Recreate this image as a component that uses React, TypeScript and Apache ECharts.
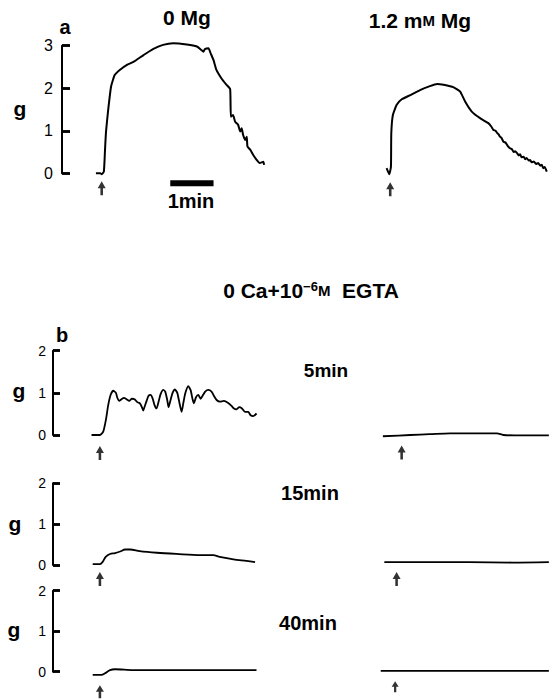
import React, { useEffect, useRef } from 'react';
import * as echarts from 'echarts';

// Time in s relative to the stimulus (arrow), force in g
const traceA0Mg: [number, number][] = [
  [-8, 0], [-2, 0], [0, -0.02], [3, 0.04], [4.6, 0.55], [6, 0.98], [9, 1.49], [13, 2.04], [18, 2.31],
  [25, 2.43], [35, 2.55], [44, 2.62], [58, 2.78], [71, 2.92], [85, 3.02], [99, 3.06], [118, 3.03],
  [132, 2.98], [138, 2.9], [141, 2.86], [143, 2.92], [148, 2.94], [151, 2.82], [155, 2.66], [159, 2.43],
  [166, 2.23], [173, 2.08], [178, 1.98], [179, 1.33], [182, 1.37], [185, 1.21], [189, 1.14], [192, 0.98],
  [194, 1.06], [196, 0.9], [199, 0.78], [201, 0.86], [202, 0.63], [206, 0.55], [210, 0.43], [215, 0.31],
  [219, 0.24], [224, 0.27], [225, 0.2],
];
const traceA12Mg: [number, number][] = [
  [-5, 0.12], [-1.4, -0.02], [1, 0.15], [1.5, 0.94], [3.7, 1.37], [9, 1.61], [16, 1.74], [28, 1.84],
  [42, 1.96], [55, 2.05], [65, 2.1], [74, 2.08], [88, 2.02], [97, 1.92], [104, 1.68], [113, 1.45],
  [125, 1.29], [136, 1.18], [140, 1.1], [143, 1.02], [146, 1.0], [148, 0.95], [150, 0.92], [152, 0.86],
  [154, 0.84], [157, 0.74], [160, 0.72], [163, 0.64], [166, 0.59], [169, 0.56], [171, 0.5], [173, 0.52],
  [176, 0.47], [178, 0.42], [180, 0.45], [182, 0.38], [185, 0.39], [187, 0.33], [189, 0.36], [192, 0.3],
  [194, 0.31], [196, 0.26], [199, 0.28], [202, 0.22], [205, 0.24], [208, 0.18], [210, 0.2], [212, 0.12],
  [214, 0.15], [217, 0.04],
];
const traceB5L: [number, number][] = [
  [-11.6, 0], [0, 0], [4.6, 0.08], [8.3, 0.36], [11.5, 0.71], [14.8, 0.95], [18.5, 1.05], [22.2, 1.0],
  [24, 0.89], [26.8, 0.81], [30, 0.85], [33.3, 0.88], [36.9, 0.85], [40.6, 0.81], [44.3, 0.86], [48, 0.85],
  [51.7, 0.78], [55.4, 0.75], [58.2, 0.66], [60, 0.58], [61.9, 0.67], [64.7, 0.81], [67.4, 0.93], [70.2, 0.95],
  [73, 0.87], [75.7, 0.71], [78.5, 0.63], [81.3, 0.79], [84.1, 0.97], [87.8, 1.07], [90.5, 1.03], [93.3, 0.83],
  [95.1, 0.66], [97.9, 0.83], [100.7, 1.0], [103.9, 1.08], [107.2, 1.0], [109.9, 0.79], [113.2, 0.55],
  [115.5, 0.75], [118.3, 0.99], [122.4, 1.16], [125.6, 1.07], [128.4, 0.85], [130.2, 0.75], [133, 0.89],
  [136.3, 0.95], [139.5, 0.86], [142.3, 0.93], [145.9, 1.03], [150.1, 1.07], [154.7, 1.03], [157.9, 0.93],
  [161.7, 0.83], [166.3, 0.79], [171.8, 0.81], [177.8, 0.76], [182.4, 0.69], [185.7, 0.63], [189.4, 0.61],
  [193.1, 0.66], [196.8, 0.63], [200.9, 0.55], [205.5, 0.55], [208.8, 0.47], [212.5, 0.45], [217.1, 0.51],
];
const traceB5R: [number, number][] = [
  [-26, -0.03], [12, 0], [39, 0.02], [67, 0.04], [95, 0.04], [132, 0.04], [141, 0], [168, -0.01], [204, -0.01],
];
const traceB15L: [number, number][] = [
  [-10, 0.02], [0, 0.02], [4, 0.08], [8, 0.2], [14, 0.27], [21, 0.29], [28, 0.33], [35, 0.38], [42, 0.38],
  [55, 0.34], [79, 0.3], [106, 0.27], [139, 0.24], [157, 0.24], [166, 0.2], [185, 0.14], [203, 0.1], [215, 0.07],
];
const traceB15R: [number, number][] = [[-17, 0.07], [40, 0.07], [100, 0.07], [160, 0.06], [211, 0.07]];
const traceB40L: [number, number][] = [
  [-10, -0.08], [2, -0.08], [7, -0.04], [14, 0.04], [21, 0.06], [46, 0.04], [139, 0.04], [217, 0.04],
];
const traceB40R: [number, number][] = [[-20, 0.02], [60, 0.02], [130, 0.02], [213, 0.02]];

const stimulusTime = 0;
const scaleBarTimes = [95, 155]; // 1 min
const scaleBarLevel = -0.235;

const SEC_PER_PX = 60 / 43.3;
const FONT = '"Liberation Sans", Arial, Helvetica, sans-serif';

type Panel = {
  left: number; top: number; height: number; xMin: number; xMax: number; yMax: number;
  showAxis: boolean; data: [number, number][]; arrowOffset: number; arrowSize: [number, number];
  lw: number; labelSize: number; labelMargin: number; smooth: number; tickLen: number;
};

const panels: Panel[] = [
  { left: 62, top: 45.7, height: 127.6, xMin: -55, xMax: 230, yMax: 3, showAxis: true, data: traceA0Mg, arrowOffset: 15, arrowSize: [8, 14], lw: 2, labelSize: 16, labelMargin: 9, smooth: 0.15, tickLen: 8 },
  { left: 370, top: 45.7, height: 127.6, xMin: -28, xMax: 220, yMax: 3, showAxis: false, data: traceA12Mg, arrowOffset: 16, arrowSize: [8, 14], lw: 2, labelSize: 16, labelMargin: 9, smooth: 0.15, tickLen: 8 },
  { left: 53, top: 350.7, height: 84.3, xMin: -65, xMax: 220, yMax: 2, showAxis: true, data: traceB5L, arrowOffset: 18, arrowSize: [8, 14], lw: 1.8, labelSize: 14, labelMargin: 7, smooth: 0.2, tickLen: 7 },
  { left: 380, top: 350.7, height: 84.3, xMin: -30, xMax: 204, yMax: 2, showAxis: false, data: traceB5R, arrowOffset: 17.5, arrowSize: [8, 14], lw: 1.8, labelSize: 14, labelMargin: 7, smooth: 0.3, tickLen: 7 },
  { left: 53, top: 483.3, height: 81.7, xMin: -65, xMax: 220, yMax: 2, showAxis: true, data: traceB15L, arrowOffset: 14, arrowSize: [8, 14], lw: 1.8, labelSize: 14, labelMargin: 7, smooth: 0.3, tickLen: 7 },
  { left: 380, top: 483.3, height: 81.7, xMin: -23, xMax: 211, yMax: 2, showAxis: false, data: traceB15R, arrowOffset: 14, arrowSize: [8, 14], lw: 1.8, labelSize: 14, labelMargin: 7, smooth: 0.3, tickLen: 7 },
  { left: 53, top: 590.7, height: 81, xMin: -65, xMax: 220, yMax: 2, showAxis: true, data: traceB40L, arrowOffset: 20, arrowSize: [8, 13], lw: 1.8, labelSize: 14, labelMargin: 7, smooth: 0.3, tickLen: 7 },
  { left: 380, top: 590.7, height: 81, xMin: -21, xMax: 213, yMax: 2, showAxis: false, data: traceB40R, arrowOffset: 15, arrowSize: [7, 11], lw: 1.8, labelSize: 14, labelMargin: 7, smooth: 0.3, tickLen: 7 },
];

const ARROW = 'path://M5,0 L10,7 L6.6,7 L6.6,14 L3.4,14 L3.4,7 L0,7 Z';

function txt(text: string, x: number, y: number, fontSize: number, bold = true, extra: any = {}) {
  return {
    type: 'text',
    x, y,
    style: {
      text, fill: '#000', fontSize, fontFamily: FONT, fontWeight: bold ? 'bold' : 'normal',
      align: 'center', verticalAlign: 'middle', textAlign: 'center', textVerticalAlign: 'middle',
      ...extra,
    },
  };
}

export default function App() {
  const ref = useRef<HTMLDivElement>(null);
  useEffect(() => {
    if (!ref.current) return;
    const chart = echarts.init(ref.current, null, { renderer: 'svg' });
    const widthOf = (p: Panel) => (p.xMax - p.xMin) / SEC_PER_PX;
    const grid = panels.map((p) => ({
      left: p.left, top: p.top, height: p.height, width: widthOf(p), containLabel: false,
    }));
    const xAxis = panels.map((p, i) => ({
      type: 'value', gridIndex: i, min: p.xMin, max: p.xMax, show: false,
    }));
    const yAxis: any[] = panels.map((p, i) => ({
      type: 'value', gridIndex: i, min: 0, max: p.yMax, interval: 1, show: p.showAxis, position: 'left',
      axisLine: { show: true, onZero: false, lineStyle: { color: '#000', width: 2 } },
      axisTick: { show: true, inside: true, length: p.tickLen, lineStyle: { color: '#000', width: 2.5 } },
      axisLabel: { show: true, color: '#000', fontSize: p.labelSize, fontFamily: FONT, margin: p.labelMargin },
      splitLine: { show: false },
    }));
    const series: any[] = [];
    panels.forEach((p, i) => {
      const tickLevels = Array.from({ length: p.yMax + 1 }, (_, k) => k);
      const tickEnd = p.xMin + p.tickLen * SEC_PER_PX;
      series.push({
        type: 'line', xAxisIndex: i, yAxisIndex: i, data: p.data, showSymbol: false, symbol: 'none',
        clip: false, smooth: p.smooth, lineStyle: { color: '#000', width: p.lw },
        markLine: p.showAxis ? {
          silent: true, symbol: ['none', 'none'], label: { show: false }, animation: false,
          lineStyle: { type: 'solid', color: '#000', width: 2.5, opacity: 1 },
          emphasis: { disabled: true },
          data: tickLevels.map((k) => [{ coord: [p.xMin, k] }, { coord: [tickEnd, k] }]),
        } : undefined,
      });
      series.push({
        type: 'scatter', xAxisIndex: i, yAxisIndex: i, data: [[stimulusTime, 0]], clip: false,
        symbol: ARROW, symbolSize: p.arrowSize, symbolOffset: [0, p.arrowOffset],
        itemStyle: { color: '#000' },
      });
    });
    series.push({
      type: 'line', xAxisIndex: 0, yAxisIndex: 0, clip: false, symbol: 'none',
      data: scaleBarTimes.map((t) => [t, scaleBarLevel]),
      lineStyle: { color: '#000', width: 6, cap: 'butt' },
    });

    const rich = {
      n: { fontSize: 21, fontWeight: 'bold', fontFamily: FONT, fill: '#000', color: '#000' },
      sc: { fontSize: 15, fontWeight: 'bold', fontFamily: FONT, fill: '#000', color: '#000' },
      sup: { fontSize: 13, fontWeight: 'bold', fontFamily: FONT, fill: '#000', color: '#000', verticalAlign: 'top', lineHeight: 13 },
    };

    chart.setOption({
      animation: false,
      backgroundColor: '#fff',
      grid, xAxis, yAxis, series,
      graphic: [
        txt('a', 65, 27, 20),
        txt('0 Mg', 187, 17, 21),
        { type: 'text', x: 420, y: 20, style: { text: '{n|1.2 m}{sc|M}{n| Mg}', rich, align: 'center', verticalAlign: 'middle', textAlign: 'center', textVerticalAlign: 'middle' } },
        txt('g', 20, 108, 21),
        txt('1min', 191, 201, 20),
        { type: 'text', x: 311, y: 290, style: { text: '{n|0 Ca+10}{sup|−6}{sc|M}{n|  EGTA}', rich, align: 'center', verticalAlign: 'middle', textAlign: 'center', textVerticalAlign: 'middle' } },
        txt('b', 62, 335, 20),
        txt('g', 19, 390, 21),
        txt('g', 15, 523, 21),
        txt('g', 14, 629, 21),
        txt('5min', 326, 370, 19),
        txt('15min', 310, 493, 20),
        txt('40min', 308, 623, 20),
      ],
    });
    return () => chart.dispose();
  }, []);
  return <div ref={ref} style={{ position: 'fixed', left: 0, top: 0, width: 549, height: 700, background: '#fff' }} />;
}
